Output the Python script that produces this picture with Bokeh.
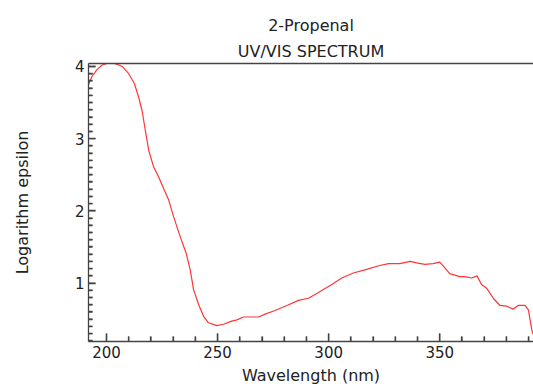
from bokeh.plotting import figure
from bokeh.models import Range1d, FixedTicker, LinearAxis, Title
from bokeh.embed import file_html
from bokeh.resources import INLINE

wavelength = [191.8, 193.6, 195.8, 198.1, 201.0, 204.0, 207.1, 210.0, 212.6, 214.5,
              216.0, 217.5, 219.0, 221.2, 223.5, 225.7, 228.0, 230.2, 233.2, 235.9,
              237.7, 239.2, 241.5, 243.7, 245.9, 249.7, 252.7, 256.0, 258.7, 261.7,
              268.4, 271.4, 275.9, 281.2, 286.4, 290.9, 295.4, 301.4, 305.9, 311.1,
              317.1, 322.5, 327.0, 332.1, 336.6, 339.6, 343.3, 347.0, 350.0, 352.3,
              354.5, 359.0, 361.3, 364.3, 366.8, 368.8, 371.1, 374.1, 377.1, 380.1,
              383.1, 385.3, 388.4, 389.9, 391.4, 392.0]
log_epsilon = [3.74, 3.87, 3.96, 4.02, 4.05, 4.04, 4.00, 3.90, 3.76, 3.57,
               3.39, 3.11, 2.84, 2.61, 2.47, 2.31, 2.15, 1.92, 1.64, 1.41,
               1.18, 0.91, 0.70, 0.54, 0.45, 0.41, 0.43, 0.47, 0.49, 0.53,
               0.53, 0.57, 0.62, 0.69, 0.76, 0.79, 0.87, 0.98, 1.07, 1.14,
               1.19, 1.24, 1.27, 1.27, 1.30, 1.28, 1.26, 1.27, 1.29, 1.21,
               1.13, 1.09, 1.09, 1.07, 1.10, 0.98, 0.93, 0.79, 0.69, 0.68,
               0.64, 0.69, 0.69, 0.63, 0.36, 0.29]

x_major = [200, 250, 300, 350]
x_minor = [w for w in range(200, 400, 10) if w not in x_major]
y_major = [1, 2, 3, 4]
y_minor = [round(0.1 * i, 1) for i in range(2, 41) if i % 10 != 0]

title_main = "2-Propenal"
title_sub = "UV/VIS SPECTRUM"
x_label = "Wavelength (nm)"
y_label = "Logarithm epsilon"

FONT = "DejaVu Sans"
AX = "#444444"
TXT = "#222222"

W, H = 533, 387
X0, X1 = 191.9, 392.2
Y0, Y1 = 0.191, 4.041

p = figure(width=W, height=H, output_backend="svg", toolbar_location=None,
           x_range=Range1d(X0, X1), y_range=Range1d(Y0, Y1),
           min_border_left=88, min_border_right=0, min_border_top=63,
           min_border_bottom=45, x_axis_label=x_label, y_axis_label=y_label)
p.title.visible = False
p.grid.visible = False
p.outline_line_color = None
p.background_fill_color = None
p.border_fill_color = "white"

p.line(wavelength, log_epsilon, line_color="#ff3535", line_width=1.2)

# inward tick marks as thin filled rectangles centred on the axis lines;
# the outer half falls outside the frame and is clipped away
TL = {"x_major": 8, "x_minor": 5, "y_major": 7, "y_minor": 4}
p.rect(x=x_major, y=[Y0] * len(x_major), width=1.4, height=2 * TL["x_major"],
       width_units="screen", height_units="screen", fill_color=AX, line_color=None)
p.rect(x=x_minor, y=[Y0] * len(x_minor), width=1.4, height=2 * TL["x_minor"],
       width_units="screen", height_units="screen", fill_color=AX, line_color=None)
p.rect(x=[X0] * len(y_major), y=y_major, width=2 * TL["y_major"], height=1.4,
       width_units="screen", height_units="screen", fill_color=AX, line_color=None)
p.rect(x=[X0] * len(y_minor), y=y_minor, width=2 * TL["y_minor"], height=1.4,
       width_units="screen", height_units="screen", fill_color=AX, line_color=None)

for ax in (p.xaxis[0], p.yaxis[0]):
    ax.axis_line_color = AX
    ax.axis_line_width = 1.3
    ax.major_tick_line_color = AX
    ax.minor_tick_line_color = AX
    ax.major_tick_line_width = 1.3
    ax.minor_tick_line_width = 1.3
    ax.major_tick_out = 0
    ax.minor_tick_out = 0
    ax.major_label_text_font = FONT
    ax.major_label_text_font_size = "15px"
    ax.major_label_text_color = TXT
    ax.axis_label_text_font = FONT
    ax.axis_label_text_font_size = "16px"
    ax.axis_label_text_font_style = "normal"
    ax.axis_label_text_color = TXT

p.xaxis[0].ticker = FixedTicker(ticks=x_major, minor_ticks=x_minor)
p.yaxis[0].ticker = FixedTicker(ticks=y_major, minor_ticks=y_minor)
p.xaxis[0].major_tick_in = TL["x_major"]
p.xaxis[0].minor_tick_in = TL["x_minor"]
p.yaxis[0].major_tick_in = TL["y_major"]
p.yaxis[0].minor_tick_in = TL["y_minor"]
p.xaxis[0].major_label_standoff = 4
p.xaxis[0].axis_label_standoff = 5
p.yaxis[0].major_label_standoff = 4
p.yaxis[0].axis_label_standoff = 40

top = LinearAxis(ticker=FixedTicker(ticks=[]), axis_line_color=AX, axis_line_width=1.3,
                 major_tick_in=0, major_tick_out=0, minor_tick_in=0, minor_tick_out=0,
                 major_label_text_font_size="0px", major_label_standoff=1)
p.add_layout(top, "above")
p.add_layout(Title(text=title_sub, align="center", text_font=FONT, text_font_size="16px",
                   text_font_style="normal", text_color=TXT, standoff=5), "above")
p.add_layout(Title(text=title_main, align="center", text_font=FONT, text_font_size="16px",
                   text_font_style="normal", text_color=TXT, standoff=5), "above")

open("out.html", "w").write(file_html(p, INLINE))
